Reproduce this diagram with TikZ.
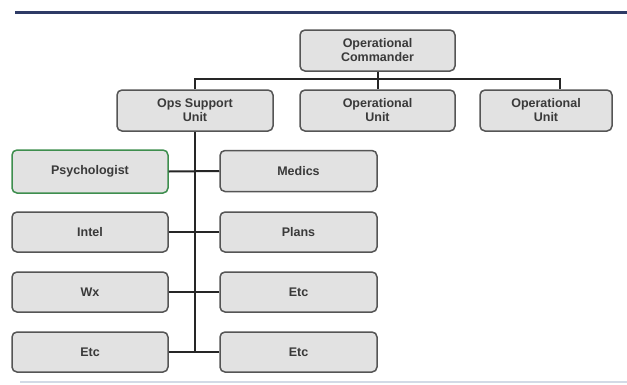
\documentclass[tikz,border=0pt]{standalone}
\usepackage{fontspec}
\setmainfont{Liberation Sans}
\usetikzlibrary{calc}
\definecolor{boxfill}{HTML}{E2E2E2}
\definecolor{boxedge}{HTML}{555555}
\definecolor{boxtext}{HTML}{3A3A3A}
\definecolor{navy}{HTML}{2E3B66}
\definecolor{greenedge}{HTML}{3E8E4E}
\definecolor{faint}{HTML}{D3DAE6}
\tikzset{
  unitbox/.style={draw=boxedge, fill=boxfill, line width=1.5pt, rounded corners=5pt,
    minimum height=41pt, inner sep=1pt, align=center, text=boxtext,
    font=\fontsize{12.5}{14}\selectfont\bfseries},
  link/.style={line width=2pt, black!85}
}
\begin{document}
\begin{tikzpicture}[x=1pt,y=-1pt]
\useasboundingbox (0,0) rectangle (627,384);
\fill[white] (0,0) rectangle (627,384);
\draw[navy, line width=3pt] (15,12) -- (627,12);
\draw[faint, line width=1.2pt] (20,382) -- (627,382);

\node[unitbox, minimum width=155pt] (cmd) at (377.5,50.5) {Operational\\Commander};
\node[unitbox, minimum width=156pt] (ops) at (195,110.5) {Ops Support\\Unit};
\node[unitbox, minimum width=155pt] (op1) at (377.5,110.5) {Operational\\Unit};
\node[unitbox, minimum width=132pt] (op2) at (546,110.5) {Operational\\Unit};

\node[unitbox, draw=greenedge, minimum width=156pt, minimum height=43pt] (psy) at (90,171.5) {Psychologist};
\node[unitbox, minimum width=156pt, minimum height=40pt] (intel) at (90,232) {Intel};
\node[unitbox, minimum width=156pt, minimum height=40pt] (wx) at (90,292) {Wx};
\node[unitbox, minimum width=156pt, minimum height=40pt] (etcl) at (90,352) {Etc};

\node[unitbox, minimum width=157pt, minimum height=41pt] (med) at (298.5,171) {Medics};
\node[unitbox, minimum width=157pt, minimum height=40pt] (plans) at (298.5,232) {Plans};
\node[unitbox, minimum width=157pt, minimum height=40pt] (etcr1) at (298.5,292) {Etc};
\node[unitbox, minimum width=157pt, minimum height=40pt] (etcr2) at (298.5,352) {Etc};

\coordinate (opdrop) at ($(op2.north)+(14,0)$);
\coordinate (trunkend) at (ops.south |- etcl.east);

\draw[link] (cmd.south) -- (op1.north);
\draw[link] (ops.north) -- ++(0,-10) -| (opdrop);
\draw[link] (ops.south) -- (trunkend);
\draw[link] (psy.east) -- (med.west);
\draw[link] (intel.east) -- (plans.west);
\draw[link] (wx.east) -- (etcr1.west);
\draw[link] (etcl.east) -- (etcr2.west);
\end{tikzpicture}
\end{document}
